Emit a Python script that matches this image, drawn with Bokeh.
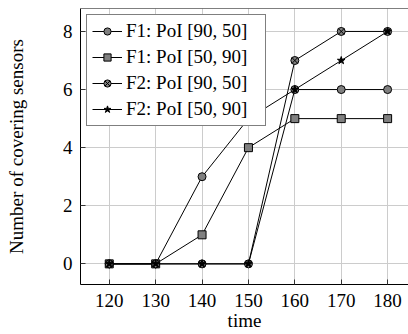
from bokeh.plotting import figure
from bokeh.models import Range1d, Legend, LegendItem, FixedTicker, Span
from bokeh.embed import file_html
from bokeh.resources import INLINE

x = [120, 130, 140, 150, 160, 170, 180]
f1_90_50 = [0, 0, 3, 5, 6, 6, 6]
f1_50_90 = [0, 0, 1, 4, 5, 5, 5]
f2_90_50 = [0, 0, 0, 0, 7, 8, 8]
f2_50_90 = [0, 0, 0, 0, 6, 7, 8]
labels = ["F1: PoI [90, 50]", "F1: PoI [50, 90]", "F2: PoI [90, 50]", "F2: PoI [50, 90]"]
x_ticks = [120, 130, 140, 150, 160, 170, 180]
y_ticks = [0, 2, 4, 6, 8]

FONT = "Liberation Serif"
FS = "19px"
Y_TOP = 8.79

p = figure(width=408, height=334, output_backend="svg", toolbar_location=None,
           x_range=Range1d(113.8, 184.5), y_range=Range1d(-0.71, Y_TOP),
           min_border_left=80, min_border_right=0, min_border_top=8, min_border_bottom=50)
p.outline_line_color = None
p.background_fill_color = "white"
p.border_fill_color = "white"

for ax in (p.xaxis[0], p.yaxis[0]):
    ax.major_tick_in = 5
    ax.major_tick_out = 0
    ax.minor_tick_in = 0
    ax.minor_tick_out = 0
    ax.axis_line_color = "black"
    ax.major_tick_line_color = "#333333"
    ax.major_label_text_font = FONT
    ax.major_label_text_font_size = FS
    ax.major_label_text_color = "black"
    ax.axis_label_text_font = FONT
    ax.axis_label_text_font_size = FS
    ax.axis_label_text_font_style = "normal"
    ax.axis_label_text_color = "black"

p.xaxis[0].ticker = FixedTicker(ticks=x_ticks)
p.yaxis[0].ticker = FixedTicker(ticks=y_ticks)
p.xaxis[0].axis_label = "time"
p.yaxis[0].axis_label = "Number of covering sensors"
p.xaxis[0].major_label_standoff = 9
p.xaxis[0].axis_label_standoff = 0
p.yaxis[0].major_label_standoff = 8
p.yaxis[0].axis_label_standoff = 33

p.add_layout(Span(location=Y_TOP, dimension="width", line_color="black", line_width=1))

p.xgrid.ticker = FixedTicker(ticks=x_ticks)
p.ygrid.ticker = FixedTicker(ticks=y_ticks)
p.grid.grid_line_color = "#cccccc"
p.grid.grid_line_width = 1

GRAY = "#808080"
items = []
series = [
    (f1_90_50, "circle", GRAY, 8),
    (f1_50_90, "square", GRAY, 8),
    (f2_90_50, "circle_x", GRAY, 8),
    (f2_50_90, "star", "black", 8),
]
for (ys, marker, fill, size), lab in zip(series, labels):
    l = p.line(x, ys, line_color="black", line_width=1)
    s = p.scatter(x, ys, marker=marker, size=size, fill_color=fill, line_color="black", line_width=1)
    items.append(LegendItem(label=lab, renderers=[l, s]))

legend = Legend(items=items, location="top_left", margin=6, padding=5,
                label_text_font=FONT, label_text_font_size=FS, label_text_color="black",
                glyph_width=30, glyph_height=18, label_height=18, label_width=134,
                label_standoff=4, spacing=4,
                border_line_color="black", border_line_width=1, background_fill_alpha=1)
p.add_layout(legend, "center")

open("out.html", "w").write(file_html(p, INLINE))
